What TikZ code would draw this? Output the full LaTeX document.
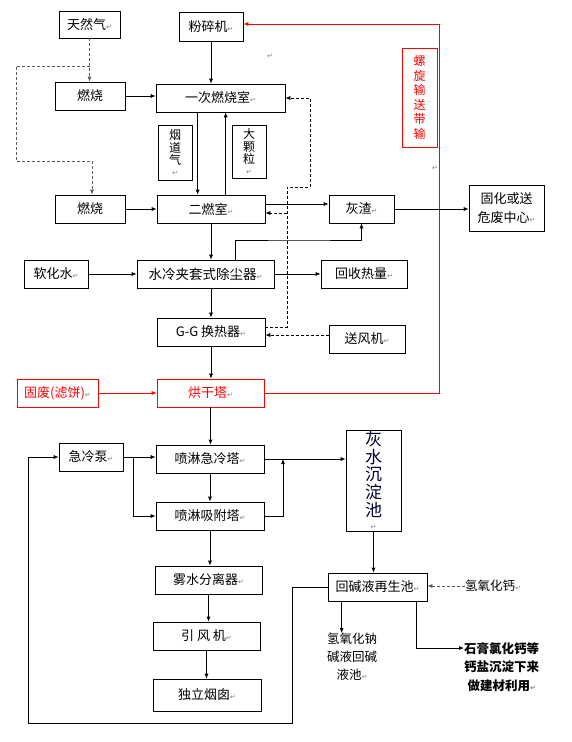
\documentclass[tikz,border=0pt]{standalone}
\usepackage{fontspec}
\setmainfont{Noto Sans CJK SC}
\newfontfamily\dvs{DejaVu Sans}
\usetikzlibrary{arrows.meta}
\newcommand\pmk{{\dvs\fontsize{7}{7}\selectfont\color{gray}↵}}
\tikzset{
  box/.style={draw, line width=0.7pt, inner sep=0pt, font=\fontsize{13}{14}\selectfont},
  rbox/.style={box, draw=red, text=red},
  vbox/.style={box, align=center, font=\fontsize{12}{12.5}\selectfont},
  arr/.style={line width=0.7pt, -{Latex[length=5pt,width=4pt]}},
  ln/.style={line width=0.7pt},
  dsh/.style={arr, dash pattern=on 3pt off 2pt},
  gdsh/.style={dsh, draw=black!65},
  rarr/.style={arr, draw=red},
  lbl/.style={inner sep=0pt, font=\fontsize{12.5}{18}\selectfont, align=center}
}
\begin{document}
\begin{tikzpicture}[x=1pt,y=-1pt]
\useasboundingbox (0,0) rectangle (572,742);
% ---- nodes ----
\node[box, minimum width=61pt, minimum height=27pt] (tianran) at (89.5,24.5) {天然气\pmk};
\node[box, minimum width=64pt, minimum height=29pt] (fensui) at (211,26.5) {粉碎机\pmk};
\node[box, minimum width=70pt, minimum height=28pt] (ran1) at (90,96) {燃烧};
\node[box, minimum width=129pt, minimum height=28pt] (yici) at (220.5,98) {一次燃烧室\pmk};
\node[vbox, minimum width=34pt, minimum height=55pt] (yandao) at (175,152.5) {烟\\道\\气\\[-2pt]\pmk};
\node[vbox, minimum width=34pt, minimum height=53pt] (dakeli) at (249,151.5) {大\\颗\\粒\\[-2pt]\pmk};
\node[box, minimum width=70pt, minimum height=28pt] (ran2) at (90,209) {燃烧};
\node[box, minimum width=108pt, minimum height=28pt] (erran) at (211,209) {二燃室\pmk};
\node[box, minimum width=65pt, minimum height=28pt] (huizha) at (361.5,209) {灰渣\pmk};
\node[box, minimum width=75pt, minimum height=46pt, align=center, font=\fontsize{13}{19}\selectfont] (guhua) at (506.5,208) {固化或送\\危废中心\pmk};
\node[rbox, minimum width=35pt, minimum height=99pt, align=center, font=\fontsize{12}{14.5}\selectfont] (luoxuan) at (419.5,97.5) {螺\\旋\\输\\送\\带\\输};
\node[box, minimum width=64pt, minimum height=28pt] (ruanhua) at (56,274) {软化水\pmk};
\node[box, minimum width=137pt, minimum height=28pt, font=\fontsize{13.5}{14}\selectfont] (shuileng) at (205.5,274) {水冷夹套式除尘器\pmk};
\node[box, minimum width=86pt, minimum height=28pt] (huishou) at (364,274) {回收热量\pmk};
\node[box, minimum width=108pt, minimum height=28pt] (gg) at (211,332) {G-G 换热器\pmk};
\node[box, minimum width=76pt, minimum height=28pt] (songfeng) at (367,339) {送风机\pmk};
\node[rbox, minimum width=81pt, minimum height=28pt] (gufei) at (57.5,393) {固废(滤饼)\pmk};
\node[rbox, minimum width=107pt, minimum height=28pt] (honggan) at (210.5,393) {烘干塔\pmk};
\node[box, minimum width=64pt, minimum height=28pt] (jileng) at (91,457) {急冷泵\pmk};
\node[box, minimum width=108pt, minimum height=28pt] (penlin1) at (210,459) {喷淋急冷塔\pmk};
\node[box, minimum width=108pt, minimum height=28pt] (penlin2) at (210,516) {喷淋吸附塔\pmk};
\node[box, minimum width=107pt, minimum height=28pt] (wushui) at (208.5,580) {雾水分离器\pmk};
\node[box, minimum width=107pt, minimum height=28pt] (yinfeng) at (206.5,636) {引\ 风\ 机\pmk};
\node[box, minimum width=108pt, minimum height=32pt] (yancong) at (207,695) {独立烟囱\pmk};
\node[box, minimum width=55pt, minimum height=101pt, align=center, font=\fontsize{17}{17.6}\selectfont, text=black!80!blue] (huishui) at (373.5,480.5) {灰\\水\\沉\\淀\\池\\[-4pt]\pmk};
\node[box, minimum width=99pt, minimum height=28pt] (huijian) at (377.5,587) {回碱液再生池\pmk};
\node[lbl] (qgai) at (493,586) {氢氧化钙\pmk};
\node[lbl, anchor=north] (qna) at (352,633) {氢氧化钠\\碱液回碱\\液池\pmk};
\node[lbl, anchor=west, font=\bfseries\fontsize{12.5}{18.5}\selectfont] (shigao) at (464,667) {石膏氯化钙等\\钙盐沉淀下来\\做建材利用\pmk};
\node[inner sep=0pt] (pm1) at (270,56) {\pmk};
\node[inner sep=0pt] (pm2) at (435,168) {\pmk};
% ---- coordinates ----
\coordinate (tj) at (90,66);
\coordinate (tjl) at (16,66);
\coordinate (tjb) at (92,161);
\coordinate (ga) at (287,187);
\coordinate (gb) at (310,187);
\coordinate (gc) at (287,213);
\coordinate (sfa) at ([yshift=-3pt]gg.east);
\coordinate (ez) at ([yshift=5pt]erran.east);
\coordinate (sh1) at ([xshift=99pt]shuileng.north west);
\coordinate (sh2) at (300,240);
\coordinate (rc) at (439,24);
\coordinate (jb) at (133,457);
\coordinate (pj) at (283,459);
\coordinate (l1) at (292,723);
\coordinate (l2) at (28,723);
\coordinate (hb1) at ([xshift=14pt]huijian.south west);
\coordinate (hb2) at ([xshift=89pt]huijian.south west);
% ---- connectors ----
\draw[gdsh] (tianran.south) -- (tianran.south |- ran1.north);
\draw[gdsh] (tj) -- (tjl) |- (tjb) -- (tjb |- ran2.north);
\draw[arr] (fensui.south) -- (fensui.south |- yici.north);
\draw[arr] (ran1.east) -- (ran1.east -| yici.west);
\draw[arr] ([xshift=42pt]yici.south west) -- ([xshift=41pt]erran.north west);
\draw[arr] ([xshift=69pt]erran.north west) -- ([xshift=70pt]yici.south west);
\draw[arr] (ran2.east) -- (erran.west);
\draw[dsh] ([yshift=5pt]gg.east) -| (ga) -- (gb) |- (yici.east);
\draw[dsh] (gc) -- (gc -| erran.east);
\draw[dsh] (songfeng.west |- sfa) -- (sfa);
\draw[arr] (ez) -- (ez -| huizha.west);
\draw[arr] (erran.south) -- (erran.south |- shuileng.north);
\draw[arr] (sh1) |- (sh2) -| (huizha.south);
\draw[arr] (ruanhua.east) -- (shuileng.west);
\draw[arr] (shuileng.east) -- (huishou.west);
\draw[arr] (gg.north |- shuileng.south) -- (gg.north);
\draw[arr] (gg.south) -- (gg.south |- honggan.north);
\draw[rarr] (gufei.east) -- (honggan.west);
\draw[rarr] (honggan.east) -| (rc) -- (rc -| fensui.east);
\draw[arr] (huizha.east) -- (huizha.east -| guhua.west);
\draw[arr] (honggan.south) -- (honggan.south |- penlin1.north);
\draw[arr] (jileng.east) -- (jileng.east -| penlin1.west);
\draw[arr] (jb) |- (penlin2.west);
\draw[arr] (penlin1.south) -- (penlin2.north);
\draw[arr] (penlin2.east) -| (pj);
\draw[arr] (penlin1.east) -- (penlin1.east -| huishui.west);
\draw[arr] (penlin2.south) -- (penlin2.south |- wushui.north);
\draw[arr] (wushui.south) -- (wushui.south |- yinfeng.north);
\draw[arr] (yinfeng.south) -- (yinfeng.south |- yancong.north);
\draw[arr] (huishui.south) -- (huishui.south |- huijian.north);
\draw[arr] (huijian.west) -| (l1) -- (l2) |- (jileng.west);
\draw[gdsh] (qgai.west) -- (qgai.west -| huijian.east);
\draw[arr] (hb1) -- (hb1 |- qna.north);
\draw[arr] (hb2) |- (shigao.west |- 0,648);
\end{tikzpicture}
\end{document}
